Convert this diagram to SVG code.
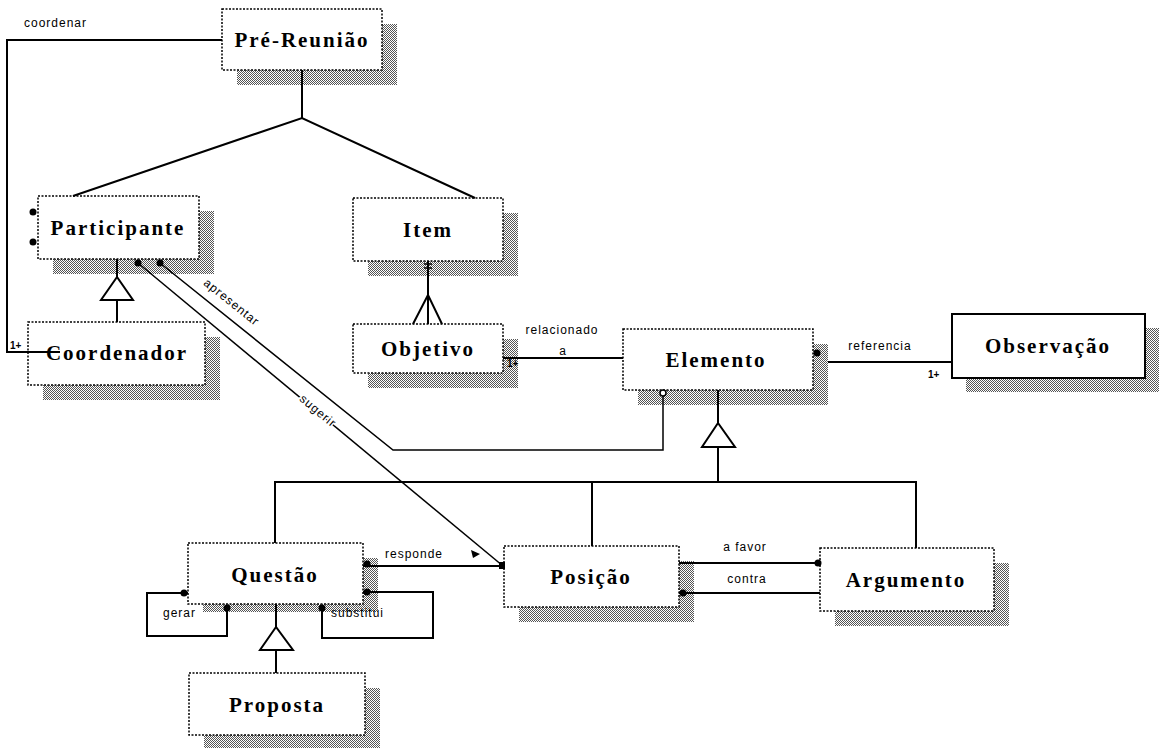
<svg xmlns="http://www.w3.org/2000/svg" width="1167" height="749" viewBox="0 0 1167 749">
<style>
.box{fill:#fff;stroke:#000;stroke-width:1.5;stroke-dasharray:2 1.5}
.solid{fill:#fff;stroke:#000;stroke-width:2}
.shadow{fill:url(#hatch)}
.name{font-family:"Liberation Serif",serif;font-weight:bold;font-size:21px;letter-spacing:2px;text-anchor:middle;fill:#000}
.lbl{font-family:"Liberation Sans",sans-serif;font-size:12px;letter-spacing:1px;fill:#000}
.mult{font-family:"Liberation Sans",sans-serif;font-size:10px;font-weight:bold;fill:#000}
.ln{stroke:#000;stroke-width:2;fill:none}
.thin{stroke:#000;stroke-width:1.5;fill:none}
.tri{fill:#fff;stroke:#000;stroke-width:2}
.dot{fill:#000}
</style>
<defs>
<pattern id="hatch" width="2" height="2" patternUnits="userSpaceOnUse">
<rect width="2" height="2" fill="#fff" shape-rendering="crispEdges"/>
<rect width="1" height="1" fill="#555" shape-rendering="crispEdges"/>
<rect x="1" y="1" width="1" height="1" fill="#555" shape-rendering="crispEdges"/>
</pattern>
</defs>
<rect width="1167" height="749" fill="#fff"/>

<g id="n-prereuniao">
<rect class="shadow" x="237" y="24" width="160" height="61"/>
<rect class="box" x="222" y="9" width="160" height="61"/>
<text class="name" x="302" y="47">Pré-Reunião</text>
</g>
<g id="n-participante">
<rect class="shadow" x="53" y="211" width="161" height="63"/>
<rect class="box" x="38" y="196" width="161" height="63"/>
<text class="name" x="118" y="235">Participante</text>
</g>
<g id="n-item">
<rect class="shadow" x="368" y="213" width="150" height="63"/>
<rect class="box" x="353" y="198" width="150" height="63"/>
<text class="name" x="428" y="237">Item</text>
</g>
<g id="n-coordenador">
<rect class="shadow" x="43" y="337" width="177" height="63"/>
<rect class="box" x="28" y="322" width="177" height="63"/>
<text class="name" x="117" y="360">Coordenador</text>
</g>
<g id="n-objetivo">
<rect class="shadow" x="368" y="339" width="150" height="49"/>
<rect class="box" x="353" y="324" width="150" height="49"/>
<text class="name" x="428" y="356">Objetivo</text>
</g>
<g id="n-elemento">
<rect class="shadow" x="638" y="344" width="190" height="61"/>
<rect class="box" x="623" y="329" width="190" height="61"/>
<text class="name" x="716" y="367">Elemento</text>
</g>
<g id="n-observacao">
<rect class="shadow" x="966" y="328" width="193" height="64"/>
<rect class="solid" x="952" y="314" width="193" height="64"/>
<text class="name" x="1048" y="353">Observação</text>
</g>
<g id="n-questao">
<rect class="shadow" x="203" y="558" width="175" height="54"/>
<rect class="box" x="188" y="543" width="175" height="61"/>
<text class="name" x="275" y="582">Questão</text>
</g>
<g id="n-posicao">
<rect class="shadow" x="519" y="561" width="175" height="61"/>
<rect class="box" x="504" y="546" width="175" height="61"/>
<text class="name" x="591" y="584">Posição</text>
</g>
<g id="n-argumento">
<rect class="shadow" x="835" y="563" width="174" height="63"/>
<rect class="box" x="820" y="548" width="174" height="63"/>
<text class="name" x="906" y="587">Argumento</text>
</g>
<g id="n-proposta">
<rect class="shadow" x="204" y="688" width="176" height="60"/>
<rect class="box" x="189" y="673" width="176" height="62"/>
<text class="name" x="277" y="712">Proposta</text>
</g>

<g id="connectors">
<!-- coordenar -->
<polyline class="ln" points="222,40 7,40 7,352 60,352"/>
<text class="lbl" x="24" y="27">coordenar</text>
<text class="mult" x="10" y="349">1+</text>
<!-- aggregation Pré-Reunião -->
<polyline class="ln" points="302,70 302,118"/>
<polyline class="ln" points="73,196 302,118 475,198"/>
<circle class="dot" cx="33" cy="212" r="3.5"/>
<circle class="dot" cx="33" cy="242" r="3.5"/>
<!-- Coordenador inherits Participante -->
<line class="ln" x1="117" y1="259" x2="117" y2="277"/>
<polygon class="tri" points="117,277 101,300 133,300"/>
<line class="ln" x1="117" y1="300" x2="117" y2="322"/>
<!-- Item - Objetivo -->
<line class="ln" x1="428" y1="261" x2="428" y2="324"/>
<line class="thin" x1="424" y1="264" x2="432" y2="264"/>
<line class="thin" x1="424" y1="268" x2="432" y2="268"/>
<polyline class="ln" points="413,324 428,295 442,324"/>
<!-- relacionado a -->
<line class="ln" x1="503" y1="358" x2="623" y2="358"/>
<text class="lbl" x="562" y="334" text-anchor="middle">relacionado</text>
<text class="lbl" x="563" y="355" text-anchor="middle">a</text>
<text class="mult" x="507" y="367">1+</text>
<!-- referencia -->
<line class="ln" x1="828" y1="362" x2="952" y2="362"/>
<circle class="dot" cx="817" cy="353" r="3.5"/>
<text class="lbl" x="880" y="350" text-anchor="middle">referencia</text>
<text class="mult" x="928" y="378">1+</text>
<!-- apresentar: Participante - Elemento -->
<polyline class="thin" points="663,396 663,450 393,450 160,263"/>
<circle cx="663" cy="393" r="3" fill="#fff" stroke="#000" stroke-width="1.5"/>
<circle class="dot" cx="160" cy="263" r="3.5"/>
<text class="lbl" x="231" y="306" text-anchor="middle" transform="rotate(38.7 231 303)">apresentar</text>
<!-- sugerir: Participante - Posição -->
<line class="thin" x1="138" y1="263" x2="503" y2="566"/>
<circle class="dot" cx="138" cy="263" r="3.5"/>
<text class="lbl" x="318" y="415" text-anchor="middle" transform="rotate(39.7 318 411)" stroke="#fff" stroke-width="3" paint-order="stroke">sugerir</text>
<!-- Elemento generalization -->
<line class="ln" x1="718" y1="390" x2="718" y2="423"/>
<polygon class="tri" points="718,423 702,447 735,447"/>
<line class="ln" x1="718" y1="447" x2="718" y2="482"/>
<polyline class="ln" points="275,543 275,482 916,482 916,548"/>
<line class="ln" x1="592" y1="482" x2="592" y2="546"/>
<!-- responde -->
<line class="ln" x1="363" y1="566" x2="503" y2="566"/>
<circle class="dot" cx="367" cy="564" r="3.5"/>
<rect class="dot" x="499" y="562" width="6" height="7"/>
<text class="lbl" x="385" y="558">responde</text>
<polygon class="dot" points="471,550 480,554 473,558"/>
<!-- a favor / contra -->
<line class="ln" x1="679" y1="563" x2="820" y2="563"/>
<circle class="dot" cx="818" cy="563" r="3.5"/>
<text class="lbl" x="745" y="551" text-anchor="middle">a favor</text>
<line class="ln" x1="679" y1="593" x2="820" y2="593"/>
<circle class="dot" cx="683" cy="593" r="3.5"/>
<text class="lbl" x="747" y="583" text-anchor="middle">contra</text>
<!-- gerar loop -->
<polyline class="ln" points="188,593 147,593 147,636 227,636 227,606"/>
<circle class="dot" cx="184" cy="593" r="3.5"/>
<circle class="dot" cx="227" cy="608" r="3.5"/>
<text class="lbl" x="163" y="617">gerar</text>
<!-- substitui loop -->
<polyline class="ln" points="363,592 433,592 433,638 322,638 322,606"/>
<circle class="dot" cx="367" cy="592" r="3.5"/>
<circle class="dot" cx="322" cy="608" r="3.5"/>
<text class="lbl" x="331" y="617">substitui</text>
<!-- Proposta inherits Questão -->
<line class="ln" x1="276" y1="604" x2="276" y2="627"/>
<polygon class="tri" points="276,627 260,650 293,650"/>
<line class="ln" x1="276" y1="650" x2="276" y2="673"/>
</g>
</svg>
